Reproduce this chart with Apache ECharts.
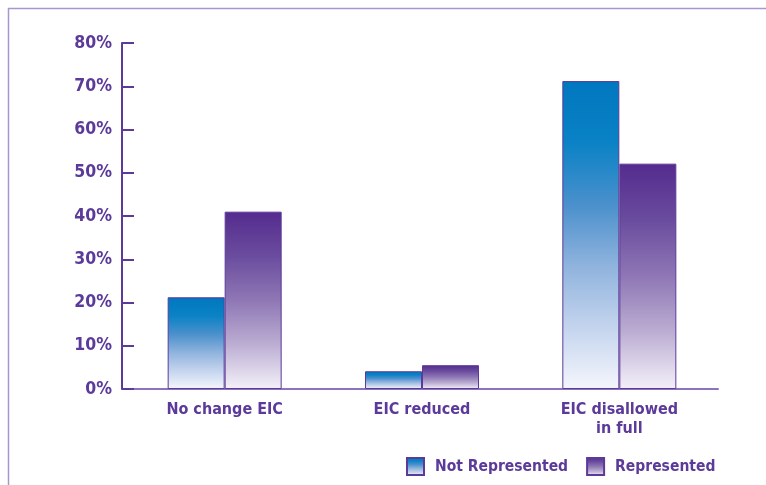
<!DOCTYPE html>
<html>
<head>
<meta charset="utf-8">
<script src="https://cdn.jsdelivr.net/npm/echarts@6/dist/echarts.min.js"></script>
<style>html,body{margin:0;padding:0;background:#fff;}#c{width:766px;height:485px;}</style>
</head>
<body>
<div id="c"></div>
<script>
var categories = ['No change EIC', 'EIC reduced', 'EIC disallowed\nin full'];
var seriesNames = ['Not Represented', 'Represented'];
var notRepresented = [21.2, 4.1, 71.2];
var represented = [41.0, 5.5, 52.1];
var yTicks = [0, 10, 20, 30, 40, 50, 60, 70, 80];

var FONT = "'Liberation Sans Narrow', 'DejaVu Sans Condensed', 'Arial Narrow', sans-serif";
var PURPLE = '#5b3a99';

function grad(stops) {
  return new echarts.graphic.LinearGradient(0, 0, 0, 1, stops.map(function (s) {
    return {offset: s[0], color: s[1]};
  }));
}

var chart = echarts.init(document.getElementById('c'), null, {renderer: 'canvas'});
chart.setOption({
  animation: false,
  backgroundColor: '#fff',
  textStyle: {fontFamily: FONT},
  graphic: [
    {type: 'line', shape: {x1: 8, y1: 8.5, x2: 766, y2: 8.5}, style: {stroke: '#a896cc', lineWidth: 1.5}, silent: true},
    {type: 'line', shape: {x1: 8.5, y1: 8, x2: 8.5, y2: 485}, style: {stroke: '#a896cc', lineWidth: 1.5}, silent: true}
  ],
  legend: {
    left: 401, top: 452,
    icon: 'rect',
    itemWidth: 17, itemHeight: 17, itemGap: 18,
    textStyle: {color: PURPLE, fontSize: 15.5, fontFamily: FONT, fontWeight: 'bold', padding: [0, 0, 0, 6]},
    data: seriesNames
  },
  grid: {left: 126, right: 48, top: 43, bottom: 96, containLabel: false},
  xAxis: {
    type: 'category',
    data: categories,
    axisLine: {lineStyle: {color: '#8c74bc', width: 2}},
    axisTick: {show: false},
    axisLabel: {color: PURPLE, fontSize: 16, fontFamily: FONT, fontWeight: 'bold', margin: 11, lineHeight: 19, interval: 0}
  },
  yAxis: {
    type: 'value',
    min: yTicks[0], max: yTicks[yTicks.length - 1], interval: 10,
    offset: 4,
    axisLine: {show: true, lineStyle: {color: PURPLE, width: 2}},
    axisTick: {show: true, inside: true, length: 12, lineStyle: {color: PURPLE, width: 2}},
    splitLine: {show: false},
    axisLabel: {color: PURPLE, fontSize: 17.5, fontFamily: FONT, fontWeight: 'bold', margin: 10, formatter: '{value}%', verticalAlign: 'middle', padding: [6, 0, 0, 0]}
  },
  series: [
    {
      name: seriesNames[0], type: 'bar', data: notRepresented,
      barWidth: 57, barGap: '0%',
      itemStyle: {
        color: grad([[0, '#0077bf'], [0.2, '#0a82c5'], [0.4, '#4a90cc'], [0.6, '#8fb3dd'], [0.8, '#c4d4ee'], [1, '#f4f6fc']]),
        borderColor: PURPLE, borderWidth: 1
      }
    },
    {
      name: seriesNames[1], type: 'bar', data: represented,
      barWidth: 57, barGap: '0%',
      itemStyle: {
        color: grad([[0, '#542b8e'], [0.25, '#6a4c9e'], [0.5, '#8f77b5'], [0.75, '#bcaed3'], [1, '#f4f1f9']]),
        borderColor: PURPLE, borderWidth: 1
      }
    }
  ]
});
</script>
</body>
</html>
